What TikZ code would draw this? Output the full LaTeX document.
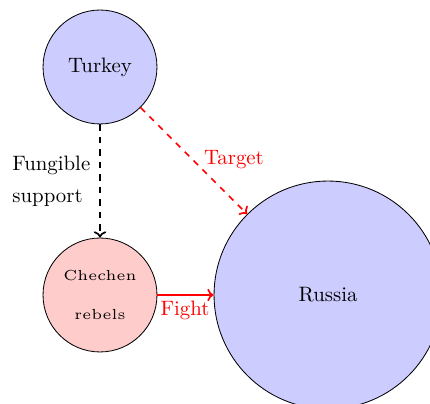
\documentclass[tikz,border=0pt]{standalone}
\usetikzlibrary{arrows.meta}
\newcommand{\rebeltext}[1]{\scalebox{1.4}{\tiny #1}}
\begin{document}
\begin{tikzpicture}[x=0.48pt,y=-0.48pt,
  country/.style={circle,draw=black,fill=blue!20,inner sep=0pt},
  rebels/.style={circle,draw=black,fill=red!20,inner sep=0pt,align=center},
  support/.style={thick,dashed,-{To[length=3pt,width=6pt]}},
  target/.style={thick,dashed,red,-{To[length=3pt,width=6pt]}},
  fight/.style={thick,red,-{To[length=3pt,width=6pt]}},
  lbl/.style={red,inner sep=1pt}]
  \useasboundingbox (0,0) rectangle (430,404);
  % actors
  \node[country,minimum size=54.7pt] (turkey) at (100,67) {Turkey};
  \node[rebels,minimum size=54.7pt] (chechen) at (100,295) {\rebeltext{Chechen}\\[6.5pt]\rebeltext{rebels}};
  \node[country,minimum size=109.4pt] (russia) at (328,295) {Russia};
  % relations
  \draw[support] (turkey) -- (chechen);
  \node[align=left,anchor=west,inner sep=0pt] (fung) at (12,181) {Fungible\\[3.4pt]support};
  \draw[target] (turkey) -- (russia);
  \node[lbl] (tgt) at (234,160) {Target};
  \draw[fight] (chechen) -- (russia);
  \node[lbl] (fgt) at (185,310) {Fight};
\end{tikzpicture}
\end{document}
